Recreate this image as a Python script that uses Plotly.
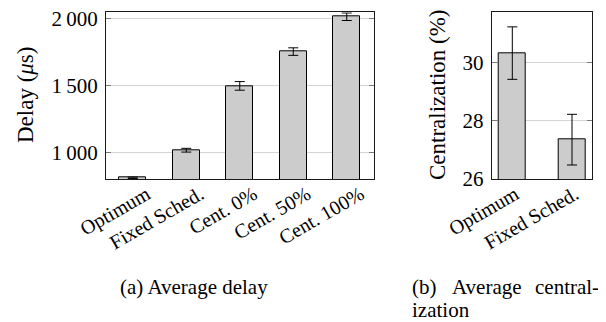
import plotly.graph_objects as go

# ---- data ----
delay_categories = ["Optimum", "Fixed Sched.", "Cent. 0%", "Cent. 50%", "Cent. 100%"]
delay_values = [815, 1020, 1498, 1753, 2012]
delay_errors = [5, 14, 32, 28, 28]
delay_tickvals = [1000, 1500, 2000]
delay_ticktext = ["1\u2009000", "1\u2009500", "2\u2009000"]

cent_categories = ["Optimum", "Fixed Sched."]
cent_values = [30.32, 27.35]
cent_errors = [0.9, 0.87]
cent_tickvals = [26, 28, 30]
cent_ticktext = ["26", "28", "30"]

# the page body has an 8px margin: figure occupies (8..606, 8..322) of the window
OFF = 8
W, H = 606 - OFF, 322 - OFF
FONT = "Liberation Serif"
BAR_FILL = "#cccccc"
GRID = "#d4d4d4"
FRAME = "#1a1a1a"


def px_x(p):
    return (p - OFF) / W


def px_y(p):
    return 1 - (p - OFF) / H


fig = go.Figure()

fig.add_trace(go.Bar(
    x=delay_categories, y=delay_values, width=0.5,
    marker=dict(color=BAR_FILL, line=dict(color="black", width=1)),
    error_y=dict(type="data", array=delay_errors, color="black", thickness=1, width=5),
    xaxis="x", yaxis="y", showlegend=False,
))
fig.add_trace(go.Bar(
    x=cent_categories, y=cent_values, width=0.45,
    marker=dict(color=BAR_FILL, line=dict(color="black", width=1)),
    error_y=dict(type="data", array=cent_errors, color="black", thickness=1, width=5),
    xaxis="x2", yaxis="y2", showlegend=False,
))

xtickfont = dict(family=FONT, size=20, color="black")
ytickfont = dict(family=FONT, size=21, color="black")

common_x = dict(showline=True, mirror=True, linecolor=FRAME, linewidth=1,
                ticks="", showgrid=False, tickangle=-30, tickfont=xtickfont,
                type="category", automargin=False, ticklabelstandoff=-5)
common_y = dict(showline=True, mirror="ticks", linecolor=FRAME, linewidth=1,
                ticks="inside", ticklen=5, tickcolor="#7a7a7a", tickwidth=1,
                showgrid=True, gridcolor=GRID, gridwidth=1, zeroline=False,
                tickfont=ytickfont, ticklabelstandoff=3, automargin=False,
                ticklabeloverflow="allow")

fig.update_layout(
    width=W, height=H, autosize=False,
    margin=dict(l=0, r=0, t=0, b=0),
    paper_bgcolor="white", plot_bgcolor="white",
    bargap=0,
    xaxis=dict(domain=[px_x(106), px_x(373.5)], anchor="y",
               range=[-0.5, 4.5], ticklabelshift=14, **common_x),
    yaxis=dict(domain=[px_y(179), px_y(12.3)], anchor="x",
               range=[806, 2045], tickvals=delay_tickvals,
               ticktext=delay_ticktext, **common_y),
    xaxis2=dict(domain=[px_x(491.7), px_x(592.3)], anchor="y2",
                range=[-0.345, 1.34], ticklabelshift=3, **common_x),
    yaxis2=dict(domain=[px_y(179), px_y(12.3)], anchor="x2",
                range=[26, 31.72], tickvals=cent_tickvals,
                ticktext=cent_ticktext, **common_y),
)

ann_font = dict(family=FONT, size=23, color="black")
cap_font = dict(family=FONT, size=21, color="black")

fig.add_annotation(text="Delay (<i>μ</i>s)", xref="paper", yref="paper",
                   x=px_x(25), y=px_y(95), textangle=-90, showarrow=False,
                   font=ann_font, xanchor="center", yanchor="middle")
fig.add_annotation(text="Centralization (%)", xref="paper", yref="paper",
                   x=px_x(437), y=px_y(95), textangle=-90, showarrow=False,
                   font=ann_font, xanchor="center", yanchor="middle")

fig.add_annotation(text="(a) Average delay", xref="paper", yref="paper",
                   x=px_x(193.5), y=px_y(287), showarrow=False, font=cap_font,
                   xanchor="center", yanchor="middle")
fig.add_annotation(text="(b)", xref="paper", yref="paper",
                   x=px_x(410), y=px_y(287), showarrow=False, font=cap_font,
                   xanchor="left", yanchor="middle")
fig.add_annotation(text="Average", xref="paper", yref="paper",
                   x=px_x(486.7), y=px_y(287), showarrow=False, font=cap_font,
                   xanchor="center", yanchor="middle")
fig.add_annotation(text="central-", xref="paper", yref="paper",
                   x=px_x(601), y=px_y(287), showarrow=False, font=cap_font,
                   xanchor="right", yanchor="middle")
fig.add_annotation(text="ization", xref="paper", yref="paper",
                   x=px_x(410), y=px_y(310), showarrow=False, font=cap_font,
                   xanchor="left", yanchor="middle")

fig.write_html("out.html")
